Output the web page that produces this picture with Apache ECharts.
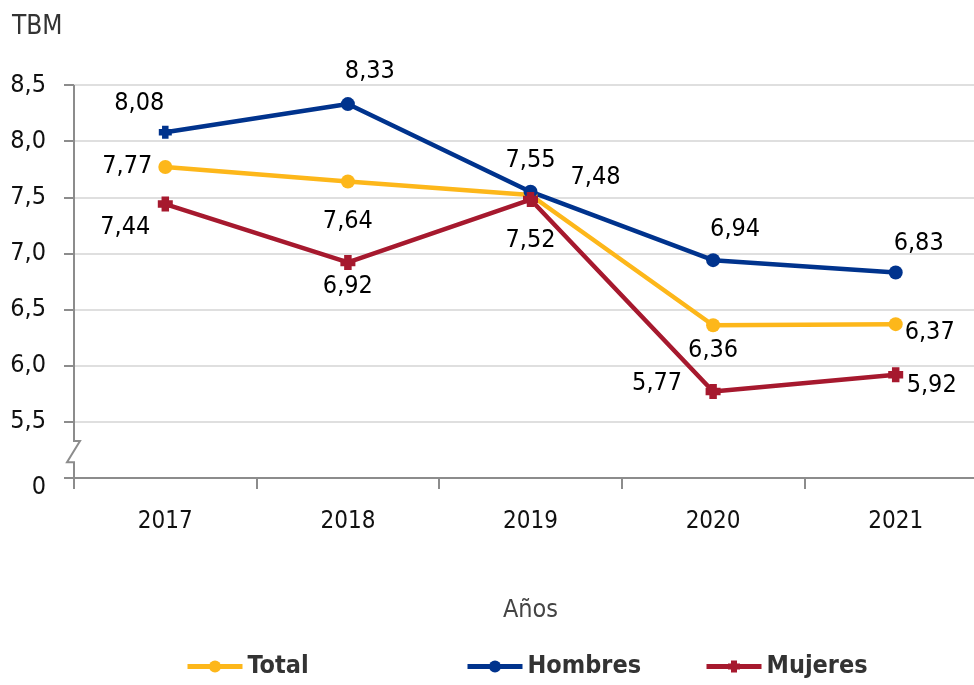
<!DOCTYPE html>
<html>
<head>
<meta charset="utf-8">
<script src="https://cdn.jsdelivr.net/npm/echarts@6/dist/echarts.min.js"></script>
<style>
  html, body { margin: 0; padding: 0; background: #fff; }
  #graph { width: 974px; height: 685px; }
</style>
</head>
<body>
<div id="graph"></div>
<script>
const years = ['2017', '2018', '2019', '2020', '2021'];
const total = [7.77, 7.64, 7.52, 6.36, 6.37];
const hombres = [8.08, 8.33, 7.55, 6.94, 6.83];
const mujeres = [7.44, 6.92, 7.48, 5.77, 5.92];

// where each data label sits, relative to its point (pixels)
const totalOffsets = [[-38, 0], [0, 40], [0, 45], [0, 25], [34, 8]];
const hombresOffsets = [[-26, -29], [22, -33], [0, -31], [22, -31], [23, -29]];
const mujeresOffsets = [[-40, 23], [0, 24], [65, -22], [-56, -8], [36, 11]];

const font = "'DejaVu Sans Condensed', 'Liberation Sans Narrow', 'Liberation Sans', sans-serif";
const plusPath = 'path://M3,0H9V3H12V9H9V12H3V9H0V3H3Z';
const gridLeft = 74;

function fmt(v) {
  return v.toFixed(2).replace('.', ',');
}

function makeData(values, offsets) {
  return values.map(function (v, i) {
    return {
      value: v,
      label: {offset: offsets[i]}
    };
  });
}

const labelStyle = {
  show: true,
  position: 'inside',
  color: '#000',
  fontFamily: font,
  fontSize: 25,
  formatter: function (p) { return fmt(p.value); }
};

let myChart = echarts.init(document.getElementById('graph'));

let hombresData = makeData(hombres, hombresOffsets);
hombresData[0].symbol = plusPath;
hombresData[0].symbolSize = 13;

myChart.setOption({
  backgroundColor: '#fff',
  animation: false,
  textStyle: {fontFamily: font},
  title: {
    text: 'TBM',
    left: 12,
    top: 14,
    padding: 0,
    textStyle: {fontFamily: font, fontSize: 26, fontWeight: 'normal', color: '#333'}
  },
  legend: [
    {data: ['Total'], left: 185, top: 654},
    {data: ['Hombres'], left: 465, top: 654},
    {data: ['Mujeres'], left: 704, top: 654}
  ].map(function (l) {
    return Object.assign(l, {
      padding: 0,
      itemWidth: 55,
      itemHeight: 15,
      itemGap: 0,
      textStyle: {fontFamily: font, fontSize: 25, fontWeight: 'bold', color: '#333'},
      lineStyle: {width: 5}
    });
  }),
  grid: {
    left: gridLeft,
    top: 85,
    width: 913,
    bottom: 207,
    containLabel: false,
    outerBoundsMode: 'none'
  },
  xAxis: {
    type: 'category',
    data: years,
    boundaryGap: true,
    name: 'Años',
    nameLocation: 'middle',
    nameGap: 120,
    nameTextStyle: {fontFamily: font, fontSize: 25, color: '#444'},
    axisLine: {lineStyle: {color: '#8c8c8c', width: 2}},
    axisTick: {show: true, length: 11, lineStyle: {color: '#8c8c8c', width: 2}},
    axisLabel: {fontFamily: font, fontSize: 24, color: '#111', margin: 32}
  },
  yAxis: {
    type: 'value',
    min: 5,
    max: 8.5,
    interval: 0.5,
    axisLine: {show: false},
    axisTick: {show: true, length: 10, lineStyle: {color: '#8c8c8c', width: 2}},
    splitLine: {lineStyle: {color: '#d4d4d4', width: 1.5}},
    axisLabel: {
      fontFamily: font,
      fontSize: 25,
      color: '#111',
      margin: 28,
      formatter: function (v) {
        if (v === 5) return '{z|0}';
        return v.toFixed(1).replace('.', ',');
      },
      rich: {
        z: {fontFamily: font, fontSize: 25, color: '#111', padding: [18, 0, 0, 0]}
      }
    }
  },
  series: [
    {
      name: 'Total',
      type: 'line',
      data: makeData(total, totalOffsets),
      symbol: 'circle',
      symbolSize: 14,
      color: '#FDB71A',
      lineStyle: {width: 4.5},
      label: labelStyle
    },
    {
      name: 'Hombres',
      type: 'line',
      data: hombresData,
      symbol: 'circle',
      symbolSize: 14,
      color: '#00338D',
      lineStyle: {width: 4.5},
      label: labelStyle
    },
    {
      name: 'Mujeres',
      type: 'line',
      data: makeData(mujeres, mujeresOffsets),
      symbol: plusPath,
      symbolSize: 15,
      color: '#A6192E',
      lineStyle: {width: 4.5},
      label: labelStyle
    }
  ]
});

// y axis line with the break between 5,5 and 0
let yTop = myChart.convertToPixel({yAxisIndex: 0}, 8.5);
let yBreakA = myChart.convertToPixel({yAxisIndex: 0}, 5.33);
let yBreakB = myChart.convertToPixel({yAxisIndex: 0}, 5.14);
let yZero = myChart.convertToPixel({yAxisIndex: 0}, 5.0);
myChart.setOption({
  graphic: [
    {
      type: 'polyline',
      z: 10,
      shape: {
        points: [
          [gridLeft, yTop], [gridLeft, yBreakA], [gridLeft + 6, yBreakA],
          [gridLeft - 7, yBreakB], [gridLeft, yBreakB], [gridLeft, yZero]
        ]
      },
      style: {stroke: '#8c8c8c', lineWidth: 2, fill: null}
    }
  ]
});
</script>
</body>
</html>
